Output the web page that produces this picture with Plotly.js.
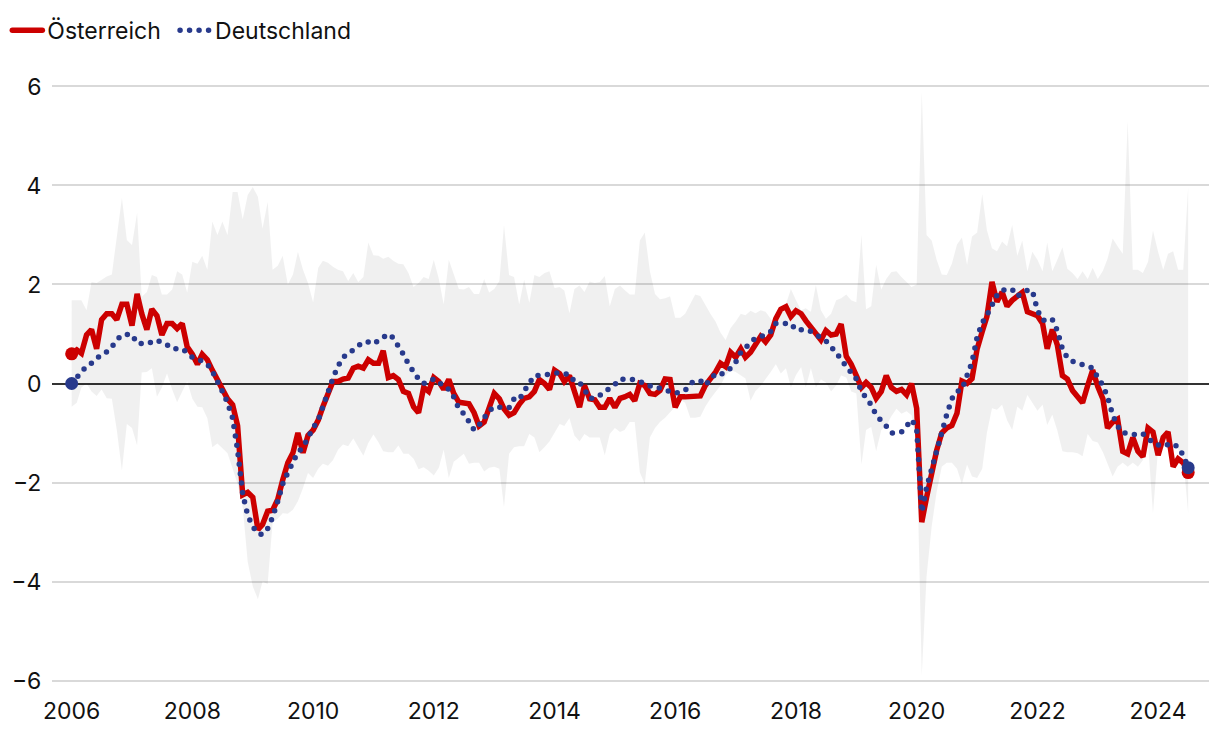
<!DOCTYPE html>
<html>
<head>
<meta charset="utf-8">
<script src="https://cdn.plot.ly/plotly-3.0.1.min.js"></script>
<style>
html,body{margin:0;padding:0;background:#fff;}
#chart{width:1220px;height:740px;}
</style>
</head>
<body>
<div id="chart"></div>
<script>
// Monthly values, January 2006 to July 2024 (one row per year)
const startYear = 2006;
const seriesNames = ["Österreich", "Deutschland"];

const oesterreich = [
  0.60, 0.68, 0.61, 0.98, 1.09, 0.70, 1.29, 1.41, 1.41, 1.29, 1.60, 1.60,
  1.17, 1.81, 1.41, 1.09, 1.50, 1.37, 0.98, 1.21, 1.21, 1.11, 1.21, 0.74,
  0.59, 0.39, 0.59, 0.48, 0.27, 0.08, -0.16, -0.31, -0.43, -0.85, -2.25, -2.20,
  -2.30, -2.95, -2.85, -2.58, -2.56, -2.34, -1.95, -1.60, -1.40, -1.00, -1.40, -1.05,
  -0.94, -0.74, -0.47, -0.22, 0.04, 0.04, 0.09, 0.11, 0.31, 0.35, 0.31, 0.48,
  0.41, 0.41, 0.66, 0.12, 0.16, 0.08, -0.16, -0.20, -0.47, -0.59, -0.08, -0.16,
  0.12, 0.04, -0.12, 0.08, -0.20, -0.38, -0.39, -0.41, -0.59, -0.86, -0.78, -0.47,
  -0.20, -0.31, -0.51, -0.64, -0.59, -0.42, -0.30, -0.27, -0.16, 0.08, 0.00, -0.12,
  0.27, 0.20, 0.04, 0.16, -0.12, -0.48, -0.04, -0.31, -0.33, -0.48, -0.48, -0.30,
  -0.48, -0.30, -0.27, -0.22, -0.35, 0.00, -0.04, -0.20, -0.22, -0.14, 0.09, 0.08,
  -0.48, -0.27, -0.27, -0.27, -0.27, -0.25, -0.04, 0.09, 0.23, 0.41, 0.34, 0.63,
  0.53, 0.70, 0.53, 0.63, 0.80, 0.95, 0.84, 0.98, 1.31, 1.50, 1.55, 1.35,
  1.47, 1.41, 1.27, 1.13, 0.98, 0.88, 1.07, 0.98, 1.00, 1.20, 0.55, 0.39,
  0.16, -0.08, 0.02, -0.08, -0.30, -0.16, 0.16, -0.08, -0.16, -0.12, -0.23, 0.00,
  -0.50, -2.80, -2.30, -1.80, -1.35, -1.00, -0.90, -0.85, -0.60, 0.05, 0.00, 0.10,
  0.70, 1.05, 1.35, 2.05, 1.65, 1.85, 1.56, 1.68, 1.76, 1.84, 1.45, 1.42,
  1.37, 1.21, 0.70, 1.09, 0.78, 0.16, 0.09, -0.14, -0.27, -0.39, -0.04, 0.27,
  -0.06, -0.31, -0.90, -0.78, -0.72, -1.37, -1.42, -1.09, -1.37, -1.48, -0.90, -0.98,
  -1.45, -1.09, -0.98, -1.68, -1.52, -1.60, -1.80
];

const deutschland = [
  0.00, 0.12, 0.27, 0.35, 0.41, 0.51, 0.59, 0.64, 0.74, 0.88, 0.98, 0.99,
  0.99, 0.81, 0.80, 0.80, 0.84, 0.88, 0.82, 0.78, 0.70, 0.70, 0.70, 0.62,
  0.53, 0.50, 0.45, 0.39, 0.25, 0.06, -0.16, -0.39, -0.70, -1.35, -2.23, -2.66,
  -2.89, -3.03, -3.05, -2.93, -2.70, -2.38, -2.03, -1.80, -1.58, -1.39, -1.29, -1.09,
  -0.90, -0.74, -0.47, -0.12, 0.11, 0.35, 0.53, 0.60, 0.67, 0.74, 0.84, 0.84,
  0.80, 0.87, 0.92, 1.00, 0.92, 0.77, 0.59, 0.39, 0.22, 0.09, 0.00, 0.05,
  0.09, 0.00, -0.02, -0.12, -0.27, -0.51, -0.61, -0.77, -0.94, -0.84, -0.70, -0.55,
  -0.47, -0.48, -0.48, -0.49, -0.31, -0.33, -0.15, 0.02, 0.16, 0.16, 0.17, 0.20,
  0.21, 0.22, 0.20, 0.18, 0.04, 0.02, -0.12, -0.30, -0.30, -0.25, -0.18, -0.09,
  -0.02, 0.09, 0.09, 0.09, 0.08, 0.04, 0.00, -0.05, -0.09, -0.09, -0.12, -0.17,
  -0.20, -0.17, -0.14, 0.00, 0.05, 0.06, -0.04, 0.08, 0.20, 0.18, 0.23, 0.31,
  0.43, 0.63, 0.72, 0.81, 0.92, 0.94, 0.98, 1.05, 1.21, 1.21, 1.21, 1.21,
  1.08, 1.08, 1.09, 1.05, 0.99, 0.91, 0.86, 0.74, 0.63, 0.48, 0.35, 0.23,
  0.09, -0.16, -0.27, -0.43, -0.64, -0.74, -0.86, -1.00, -0.99, -0.98, -0.86, -0.73,
  -0.90, -2.60, -2.10, -1.70, -1.35, -0.94, -0.63, -0.31, -0.16, -0.12, 0.16, 0.43,
  0.94, 1.23, 1.38, 1.58, 1.78, 1.88, 1.91, 1.90, 1.76, 1.84, 1.88, 1.88,
  1.48, 1.29, 1.25, 1.29, 1.07, 0.70, 0.52, 0.45, 0.41, 0.37, 0.34, 0.31,
  0.12, -0.04, -0.27, -0.63, -0.86, -1.00, -1.00, -1.03, -1.05, -1.02, -1.09, -1.21,
  -1.23, -1.27, -1.23, -1.21, -1.29, -1.45, -1.70
];

// Range across countries (grey band): maximum and minimum
const bandHigh = [
  1.68, 1.68, 1.68, 1.48, 2.05, 2.03, 2.10, 2.16, 2.20, 2.95, 3.75, 2.90,
  2.80, 3.45, 1.75, 1.85, 2.19, 2.15, 1.80, 1.80, 1.90, 2.27, 2.20, 1.84,
  2.46, 2.42, 2.58, 2.30, 3.27, 3.00, 3.27, 3.00, 3.87, 3.87, 3.32, 3.81,
  3.97, 3.77, 3.13, 3.67, 2.30, 2.38, 2.58, 2.00, 2.20, 2.66, 2.30, 2.03,
  1.64, 2.34, 2.48, 2.44, 2.36, 2.30, 2.27, 2.07, 2.23, 2.05, 2.15, 2.85,
  2.59, 2.58, 2.52, 2.56, 2.48, 2.42, 2.41, 2.23, 1.95, 2.03, 2.15, 2.11,
  2.50, 2.11, 1.60, 2.50, 2.19, 1.91, 1.90, 1.95, 1.81, 1.81, 2.11, 1.84,
  1.91, 2.07, 3.20, 2.19, 2.15, 1.60, 2.10, 1.63, 2.19, 2.15, 2.23, 2.27,
  1.93, 1.95, 1.88, 1.42, 1.91, 1.98, 1.85, 2.06, 2.03, 2.05, 2.17, 1.56,
  1.91, 1.98, 1.89, 1.80, 1.80, 2.89, 3.05, 2.27, 1.81, 1.70, 1.72, 1.76,
  1.33, 1.33, 1.41, 1.60, 1.80, 1.77, 1.58, 1.41, 1.25, 1.03, 0.88, 1.12,
  1.25, 1.41, 1.38, 1.47, 1.42, 1.48, 1.45, 1.31, 1.13, 1.50, 1.60, 1.91,
  1.68, 1.48, 1.52, 1.45, 1.99, 1.48, 1.31, 1.41, 1.68, 1.72, 1.80, 1.68,
  1.64, 3.00, 1.50, 1.56, 2.40, 1.90, 2.11, 2.25, 2.27, 2.15, 2.05, 1.95,
  2.00, 5.90, 3.00, 2.89, 2.50, 2.20, 2.19, 2.42, 2.81, 2.95, 2.40, 2.97,
  3.05, 3.83, 3.10, 2.73, 2.67, 2.87, 2.77, 3.20, 2.58, 2.89, 2.27, 2.66,
  2.50, 2.27, 2.85, 2.27, 2.50, 2.75, 2.32, 2.23, 2.11, 2.27, 2.11, 2.34,
  2.11, 2.28, 2.52, 2.93, 2.77, 2.62, 5.31, 2.30, 2.30, 2.23, 2.46, 3.09,
  2.66, 2.30, 2.62, 2.67, 2.30, 2.30, 3.98
];

const bandLow = [
  -0.47, -0.39, -0.08, 0.00, -0.16, -0.25, -0.12, -0.30, -0.31, -0.94, -1.76, -0.82,
  -0.90, -1.25, 0.22, 0.23, 0.31, -0.27, -0.08, 0.20, -0.12, -0.38, -0.16, 0.04,
  -0.31, -0.47, -0.48, -0.70, -1.29, -1.21, -1.31, -1.41, -1.72, -2.03, -2.50, -3.60,
  -4.10, -4.36, -4.00, -4.05, -2.81, -2.73, -2.62, -2.63, -2.55, -2.38, -2.11, -1.81,
  -1.91, -1.72, -1.62, -1.66, -1.55, -1.34, -1.23, -1.27, -1.11, -1.27, -1.46, -1.20,
  -1.03, -1.19, -1.37, -1.39, -1.39, -1.25, -1.42, -1.42, -1.52, -1.73, -1.69, -1.76,
  -1.86, -1.70, -1.34, -1.91, -1.58, -1.50, -1.42, -1.62, -1.60, -1.60, -1.78, -1.70,
  -1.68, -1.72, -2.50, -1.42, -1.29, -1.27, -1.27, -1.02, -1.09, -1.39, -1.29, -1.17,
  -0.98, -0.82, -0.86, -0.70, -1.05, -1.17, -1.02, -1.09, -1.09, -1.09, -1.45, -1.02,
  -0.90, -0.98, -0.94, -0.78, -0.78, -1.80, -2.03, -1.09, -0.90, -0.78, -0.69, -0.59,
  -0.47, -0.33, -0.39, -0.69, -0.69, -0.67, -0.47, -0.31, -0.16, -0.04, 0.16, 0.27,
  0.23, 0.16, 0.10, -0.35, -0.15, -0.05, 0.08, 0.23, 0.39, 0.20, 0.31, -0.08,
  0.17, 0.33, -0.08, 0.31, -0.08, 0.08, 0.02, -0.16, -0.04, 0.16, 0.12, -0.16,
  -0.20, -1.64, -0.94, -0.88, -1.37, -0.94, -0.86, -0.66, -0.51, -0.61, -0.56, -0.64,
  -1.25, -5.90, -3.90, -2.89, -2.19, -1.68, -1.60, -1.60, -1.72, -2.03, -1.64, -1.88,
  -1.91, -1.72, -1.00, -0.50, -0.53, -0.43, -0.74, -0.94, -0.47, -0.55, -0.23, -0.38,
  -0.55, -0.43, -0.84, -0.63, -0.95, -1.37, -1.39, -1.39, -1.41, -1.47, -1.02, -1.16,
  -1.19, -1.39, -1.64, -1.88, -1.68, -1.60, -1.68, -1.60, -1.68, -1.55, -1.21, -2.62,
  -1.33, -1.29, -1.21, -1.21, -1.33, -1.52, -2.62
];

const yTicks = [-6, -4, -2, 0, 2, 4, 6];
const xTickYears = ["2006","2008","2010","2012","2014","2016","2018","2020","2022","2024"];

// month dates for the x axis
const months = oesterreich.map((_, i) => {
  const y = startYear + Math.floor(i / 12);
  const m = (i % 12) + 1;
  return y + "-" + String(m).padStart(2, "0") + "-01";
});
const last = months.length - 1;

const RED = "#cc0000";
const BLUE = "#283a8c";
const FONT = "Inter, 'Noto Sans', 'Liberation Sans', sans-serif";
const FS = 23;

const traces = [
  { x: months, y: bandLow, mode: "lines", line: {width: 0, color: "rgba(0,0,0,0)"},
    showlegend: false, hoverinfo: "skip" },
  { x: months, y: bandHigh, mode: "lines", line: {width: 0, color: "rgba(0,0,0,0)"},
    fill: "tonexty", fillcolor: "rgba(0,0,0,0.058)", showlegend: false, hoverinfo: "skip" },
  { x: months, y: oesterreich, name: seriesNames[0], mode: "lines",
    line: {color: RED, width: 5.5}, legend: "legend" },
  { x: months, y: deutschland, name: seriesNames[1], mode: "lines",
    line: {color: BLUE, width: 5.5, dash: "0px,9.5px"}, legend: "legend2" },
  { x: [months[0], months[last]], y: [oesterreich[0], oesterreich[last]], mode: "markers",
    marker: {color: RED, size: 13}, showlegend: false, hoverinfo: "skip" },
  { x: [months[0], months[last]], y: [deutschland[0], deutschland[last]], mode: "markers",
    marker: {color: BLUE, size: 13}, showlegend: false, hoverinfo: "skip" }
];

const legendBase = {
  orientation: "h", xref: "container", yref: "container",
  xanchor: "left", y: 0.988, yanchor: "top",
  font: {family: FONT, size: FS, color: "#111"},
  bgcolor: "rgba(0,0,0,0)", itemwidth: 30
};

const layout = {
  width: 1220, height: 740,
  margin: {l: 52, r: 11, t: 84, b: 57},
  paper_bgcolor: "#fff", plot_bgcolor: "#fff",
  font: {family: FONT, size: FS, color: "#111"},
  showlegend: true,
  legend: Object.assign({}, legendBase, {x: 0.006}),
  legend2: Object.assign({}, legendBase, {x: 0.1435}),
  xaxis: {
    type: "date",
    range: ["2005-09-04", "2024-11-04"],
    tickvals: xTickYears.map(y => y + "-01-01"),
    ticktext: xTickYears,
    showgrid: false, zeroline: false, showline: false,
    ticks: "outside", ticklen: 7, tickcolor: "rgba(0,0,0,0)",
    tickfont: {family: FONT, size: FS, color: "#111"}
  },
  yaxis: {
    range: [-6.05, 6.05],
    tickvals: yTicks,
    showgrid: true, gridcolor: "#d9d9d9", gridwidth: 2,
    zeroline: true, zerolinecolor: "#333", zerolinewidth: 2,
    showline: false,
    ticks: "outside", ticklen: 5, tickcolor: "rgba(0,0,0,0)",
    tickfont: {family: FONT, size: FS, color: "#111"}
  }
};

Plotly.newPlot("chart", traces, layout, {staticPlot: true, displayModeBar: false}).then(() => {
  document.querySelectorAll("path").forEach(p => {
    const da = p.style.strokeDasharray || "";
    if (da.trim().startsWith("0")) {
      p.style.strokeLinecap = "round";
    }
  });
  document.querySelectorAll(".legendlines path").forEach(p => {
    p.style.strokeLinecap = "round";
  });
});
</script>
</body>
</html>
